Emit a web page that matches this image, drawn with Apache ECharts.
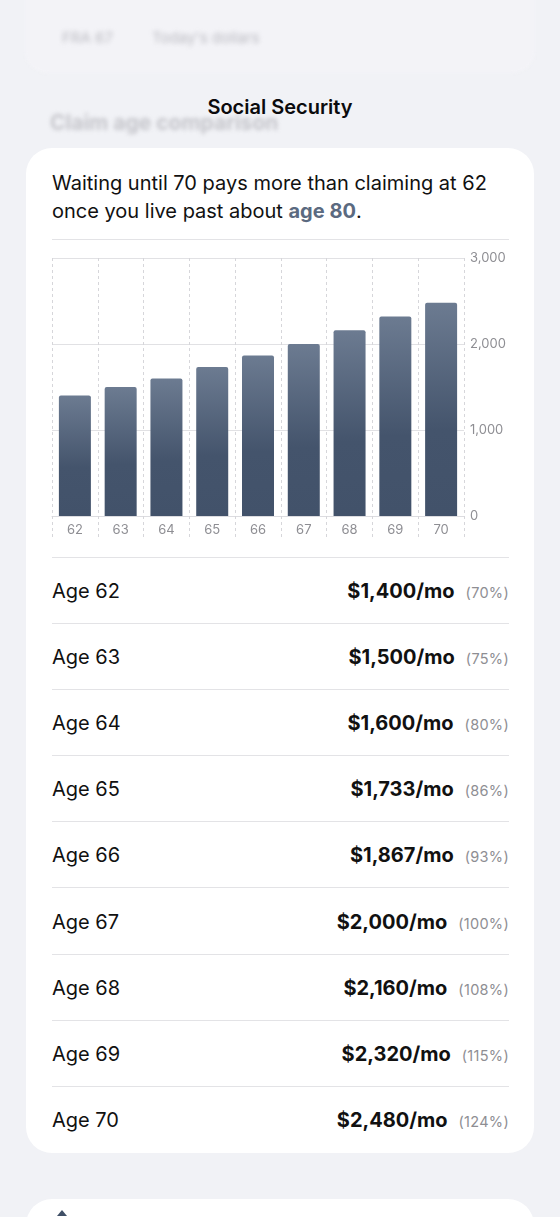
<!DOCTYPE html>
<html>
<head>
<meta charset="utf-8">
<script src="https://cdn.jsdelivr.net/npm/echarts@6/dist/echarts.min.js"></script>
<style>
  html, body { margin: 0; padding: 0; }
  body { width: 560px; height: 1217px; background: #f1f2f6; position: relative; overflow: hidden;
         font-family: Inter, "Noto Sans", "DejaVu Sans", sans-serif; -webkit-font-smoothing: antialiased; }
  .blurbox { position: absolute; left: 25px; top: -30px; width: 510px; height: 103px; border-radius: 22px;
             background: #f3f3f7; filter: blur(1.5px); }
  .pill { position: absolute; top: 26px; height: 24px; line-height: 24px; font-size: 15px; color: #9a9aa2;
          filter: blur(2.4px); opacity: 0.65; }
  .title { position: absolute; left: 0; width: 560px; top: 95px; text-align: center; font-size: 20px;
           font-weight: 600; color: #0b0b0d; }
  .blurtitle { position: absolute; left: 50px; top: 110px; font-size: 21px; font-weight: 700; color: #b5b5bb;
               filter: blur(2px); opacity: 0.75; }
  .card { position: absolute; left: 26px; top: 148px; width: 508px; height: 1005px; background: #fff; border-radius: 26px; }
  .card2 { position: absolute; left: 26px; top: 1199px; width: 508px; height: 100px; background: #fff; border-radius: 26px; }
  .intro { position: absolute; left: 52px; top: 169px; width: 475px; font-size: 20px; line-height: 28px; color: #111; }
  .intro b { color: #5b6a80; font-weight: 700; }
  .sep { position: absolute; left: 52px; width: 457px; height: 1px; background: #e3e3e6; }
  #chart { position: absolute; left: 26px; top: 240px; width: 508px; height: 310px; }
  .row { position: absolute; left: 52px; width: 457px; height: 66px; }
  .row .lab { position: absolute; left: 0; top: 0; line-height: 66px; font-size: 20px; color: #111; }
  .row .val { position: absolute; right: 0; top: 0; line-height: 66px; font-size: 20px; color: #111; white-space: nowrap; }
  .row .val b { font-weight: 700; }
  .row .val span { font-size: 14.5px; color: #8e8e93; margin-left: 11px; letter-spacing: 0.3px; }
</style>
</head>
<body>
<div class="blurbox"></div>
<div class="pill" style="left:62px">FRA 67</div>
<div class="pill" style="left:152px">Today's dollars</div>
<div class="blurtitle">Claim age comparison</div>
<div class="title">Social Security</div>
<div class="card"></div>
<div class="card2"></div>
<svg style="position:absolute;left:55px;top:1210px" width="14" height="8"><path d="M7 0 L12 6 L2 6 Z" fill="#3f4f66"/></svg>
<div class="intro">Waiting until 70 pays more than claiming at 62<br>once you live past about <b>age 80</b>.</div>
<div class="sep" style="top:239px"></div>
<div id="chart"></div>
<div id="rows"></div>
<script>
const ages = ['62', '63', '64', '65', '66', '67', '68', '69', '70'];
const monthly = [1400, 1500, 1600, 1733, 1867, 2000, 2160, 2320, 2480];
const pctOfFRA = ['70%', '75%', '80%', '86%', '93%', '100%', '108%', '115%', '124%'];
const yTicks = [0, 1000, 2000, 3000];

// list rows
const rowsEl = document.getElementById('rows');
let html = '<div class="sep" style="top:557px"></div>';
ages.forEach((a, i) => {
  const top = 558 + i * 66.1;
  html += '<div class="row" style="top:' + top + 'px"><div class="lab">Age ' + a + '</div>' +
          '<div class="val"><b>$' + monthly[i].toLocaleString('en-US') + '/mo</b><span>(' + pctOfFRA[i] + ')</span></div></div>';
  if (i < ages.length - 1) html += '<div class="sep" style="top:' + (top + 65) + 'px"></div>';
});
rowsEl.innerHTML = html;

const chart = echarts.init(document.getElementById('chart'), null, { renderer: 'canvas' });
chart.setOption({
  animation: false,
  grid: { left: 26, right: 70, top: 18, bottom: 34 },
  xAxis: {
    type: 'category',
    data: ages,
    axisLine: { show: true, lineStyle: { color: '#dcdce0', width: 1 } },
    axisTick: { show: true, length: 21, lineStyle: { color: '#d6d6da', type: [3, 3] } },
    axisLabel: { color: '#8e8e93', fontSize: 13, margin: 8, fontFamily: 'Inter' },
    splitLine: { show: true, lineStyle: { color: '#d6d6da', type: [3, 3] } }
  },
  yAxis: {
    type: 'value',
    position: 'right',
    min: yTicks[0], max: yTicks[yTicks.length - 1], interval: 1000,
    axisLine: { show: false },
    axisTick: { show: false },
    axisLabel: { color: '#8e8e93', fontSize: 13, margin: 6, fontFamily: 'Inter',
                 formatter: v => v.toLocaleString('en-US') },
    splitLine: { show: true, lineStyle: { color: '#e1e1e4', width: 1 } }
  },
  series: [{
    type: 'bar',
    data: monthly,
    barWidth: 32,
    itemStyle: {
      borderRadius: [2, 2, 0, 0],
      color: new echarts.graphic.LinearGradient(0, 0, 0, 1, [
        { offset: 0, color: '#6c7b91' },
        { offset: 0.6, color: '#44546c' },
        { offset: 1, color: '#42526a' }
      ])
    }
  }]
});
</script>
</body>
</html>
